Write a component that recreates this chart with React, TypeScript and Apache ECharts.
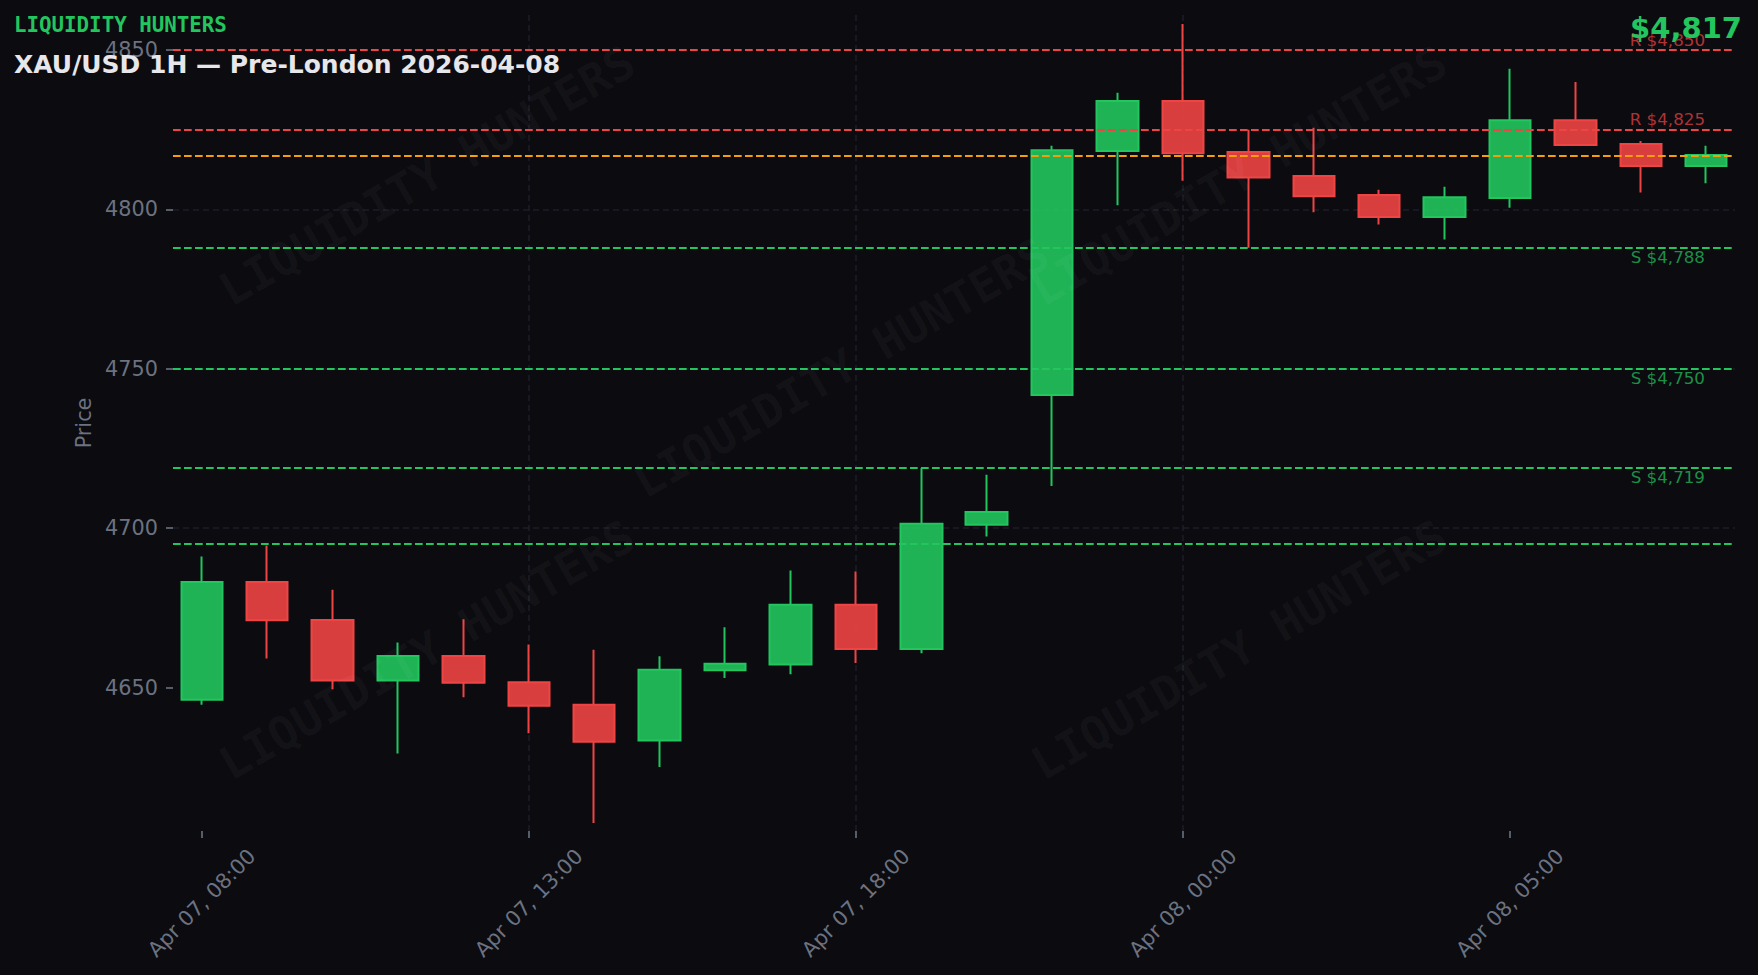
import React, { useEffect, useRef } from "react";
import * as echarts from "echarts";

const times = [
  "Apr 07, 08:00", "Apr 07, 09:00", "Apr 07, 10:00", "Apr 07, 11:00", "Apr 07, 12:00",
  "Apr 07, 13:00", "Apr 07, 14:00", "Apr 07, 15:00", "Apr 07, 16:00", "Apr 07, 17:00",
  "Apr 07, 18:00", "Apr 07, 19:00", "Apr 07, 20:00", "Apr 07, 22:00", "Apr 07, 23:00",
  "Apr 08, 00:00", "Apr 08, 01:00", "Apr 08, 02:00", "Apr 08, 03:00", "Apr 08, 04:00",
  "Apr 08, 05:00", "Apr 08, 06:00", "Apr 08, 07:00", "Apr 08, 08:00",
];
const opens = [4646.2, 4683.1, 4671.2, 4652.2, 4659.9, 4651.7, 4644.6, 4633.4, 4655.4, 4657.2, 4676.0, 4662.1, 4701.1, 4741.8, 4818.3, 4834.0, 4818.0, 4810.5, 4804.5, 4797.6, 4803.6, 4828.0, 4820.5, 4813.6];
const closes = [4683.1, 4671.1, 4652.2, 4659.9, 4651.5, 4644.3, 4633.0, 4655.6, 4657.5, 4676.0, 4662.1, 4701.4, 4705.1, 4818.6, 4834.0, 4817.6, 4810.0, 4804.1, 4797.6, 4803.8, 4828.0, 4820.2, 4813.6, 4817.1];
const lows = [4644.6, 4659.1, 4649.5, 4629.3, 4647.0, 4635.7, 4607.5, 4625.1, 4653.0, 4654.2, 4657.7, 4660.8, 4697.4, 4713.2, 4801.3, 4809.0, 4788.0, 4799.1, 4795.3, 4790.6, 4800.5, 4820.0, 4805.3, 4808.2];
const highs = [4691.1, 4694.6, 4680.7, 4664.1, 4671.4, 4663.5, 4661.9, 4659.8, 4668.9, 4686.7, 4686.4, 4718.9, 4716.8, 4820.0, 4836.6, 4858.2, 4825.0, 4825.6, 4806.2, 4807.1, 4844.1, 4840.0, 4821.5, 4820.0];

const resistanceLevels = [4850, 4825];
const supportLevels = [4788, 4750, 4719];
const unlabeledSupport = [4695];
const currentPrice = 4817;

const xTickIndices = [0, 5, 10, 15, 20];
const yTickValues = [4650, 4700, 4750, 4800, 4850];

const GREEN = "#22c55e";
const RED = "#ef4444";
const ORANGE = "#f59e0b";
const GRAY = "#6b7280";
const BG = "#0b0b10";
const FONT = '"DejaVu Sans", sans-serif';

const fmt = (v: number) => "$" + v.toLocaleString("en-US");

export default function App() {
  const ref = useRef<HTMLDivElement>(null);

  useEffect(() => {
    if (!ref.current) return;
    const chart = echarts.init(ref.current, null, { renderer: "svg" });

    const candleData = opens.map((o, i) => [i, o, closes[i], lows[i], highs[i]]);

    const dashed = [7.7, 3.3];
    const markData: any[] = [];
    resistanceLevels.forEach((v) =>
      markData.push({
        yAxis: v,
        lineStyle: { color: RED, width: 2, type: dashed },
        label: {
          show: true,
          formatter: "R " + fmt(v),
          position: "insideEndTop",
          distance: [30, 2],
          color: "rgba(239,68,68,0.72)",
          fontSize: 16.7,
          fontFamily: FONT,
        },
      })
    );
    supportLevels.forEach((v) =>
      markData.push({
        yAxis: v,
        lineStyle: { color: GREEN, width: 2, type: dashed },
        label: {
          show: true,
          formatter: "S " + fmt(v),
          position: "insideEndBottom",
          distance: [30, 1],
          color: "rgba(34,197,94,0.72)",
          fontSize: 16.7,
          fontFamily: FONT,
        },
      })
    );
    unlabeledSupport.forEach((v) =>
      markData.push({
        yAxis: v,
        lineStyle: { color: GREEN, width: 2, type: dashed },
        label: { show: false },
      })
    );
    markData.push({
      yAxis: currentPrice,
      lineStyle: { color: ORANGE, width: 2, type: dashed },
      label: { show: false },
    });

    const wmFont = 'bold 46px "DejaVu Sans Mono", monospace';
    const wmPositions = [
      [427, 176],
      [1239, 176],
      [841, 368],
      [427, 650],
      [1239, 650],
    ];

    chart.setOption({
      animation: false,
      backgroundColor: BG,
      grid: { left: 173, right: 23, top: 15, bottom: 144, containLabel: false },
      xAxis: {
        type: "value",
        min: -0.44,
        max: 23.44,
        axisLine: { show: false, onZero: false },
        axisTick: {
          show: true,
          customValues: xTickIndices,
          length: 7,
          lineStyle: { color: GRAY, width: 1.6 },
        },
        axisLabel: {
          customValues: xTickIndices,
          formatter: (v: number) => times[Math.round(v)] ?? "",
          rotate: 45,
          align: "center",
          verticalAlign: "middle",
          margin: 72,
          color: GRAY,
          fontSize: 20.8,
          fontFamily: FONT,
        },
        splitLine: {
          show: true,
          showMinLine: false,
          showMaxLine: false,
          lineStyle: { color: "#1d1e27", width: 1.5, type: [6, 4] },
        },
      },
      yAxis: {
        type: "value",
        min: 4605,
        max: 4861,
        scale: true,
        name: "Price",
        nameLocation: "middle",
        nameGap: 63,
        nameTextStyle: { color: GRAY, fontSize: 20.8, fontFamily: FONT },
        axisLine: { show: false, onZero: false },
        axisTick: {
          show: true,
          customValues: yTickValues,
          length: 7,
          lineStyle: { color: GRAY, width: 1.6 },
        },
        axisLabel: {
          customValues: yTickValues,
          formatter: (v: number) => String(v),
          margin: 15,
          color: GRAY,
          fontSize: 20.8,
          fontFamily: FONT,
        },
        splitLine: {
          show: true,
          showMinLine: false,
          showMaxLine: false,
          lineStyle: { color: "#1d1e27", width: 1.5, type: [6, 4] },
        },
      },
      series: [
        {
          type: "candlestick",
          data: candleData,
          encode: { x: 0, y: [1, 2, 3, 4] },
          barWidth: 42,
          z: 2,
          itemStyle: {
            color: "rgba(34,197,94,0.9)",
            color0: "rgba(239,68,68,0.9)",
            borderColor: GREEN,
            borderColor0: RED,
            borderWidth: 2,
          },
        },
        {
          type: "line",
          data: [],
          z: 10,
          markLine: {
            silent: true,
            symbol: "none",
            z: 10,
            animation: false,
            data: markData,
          },
        },
      ],
      graphic: [
        ...wmPositions.map(([x, y]) => ({
          type: "text",
          x,
          y,
          rotation: Math.PI / 6,
          z: 20,
          silent: true,
          style: {
            text: "LIQUIDITY HUNTERS",
            font: wmFont,
            fill: "rgba(255,255,255,0.04)",
            align: "center",
            verticalAlign: "middle",
          },
        })),
        {
          type: "text",
          x: 14,
          y: 25,
          z: 30,
          style: {
            text: "LIQUIDITY HUNTERS",
            font: 'bold 20.8px "DejaVu Sans Mono", monospace',
            fill: GREEN,
            verticalAlign: "middle",
          },
        },
        {
          type: "text",
          x: 14,
          y: 64.5,
          z: 30,
          style: {
            text: "XAU/USD 1H — Pre-London 2026-04-08",
            font: 'bold 25px "DejaVu Sans", sans-serif',
            fill: "#e6e6eb",
            verticalAlign: "middle",
          },
        },
        {
          type: "text",
          x: 1742,
          y: 28,
          z: 30,
          style: {
            text: fmt(currentPrice),
            font: 'bold 29px "DejaVu Sans", sans-serif',
            fill: GREEN,
            align: "right",
            verticalAlign: "middle",
          },
        },
      ],
    });

    return () => chart.dispose();
  }, []);

  return (
    <div
      ref={ref}
      style={{ position: "fixed", left: 0, top: 0, width: 1758, height: 975 }}
    />
  );
}
